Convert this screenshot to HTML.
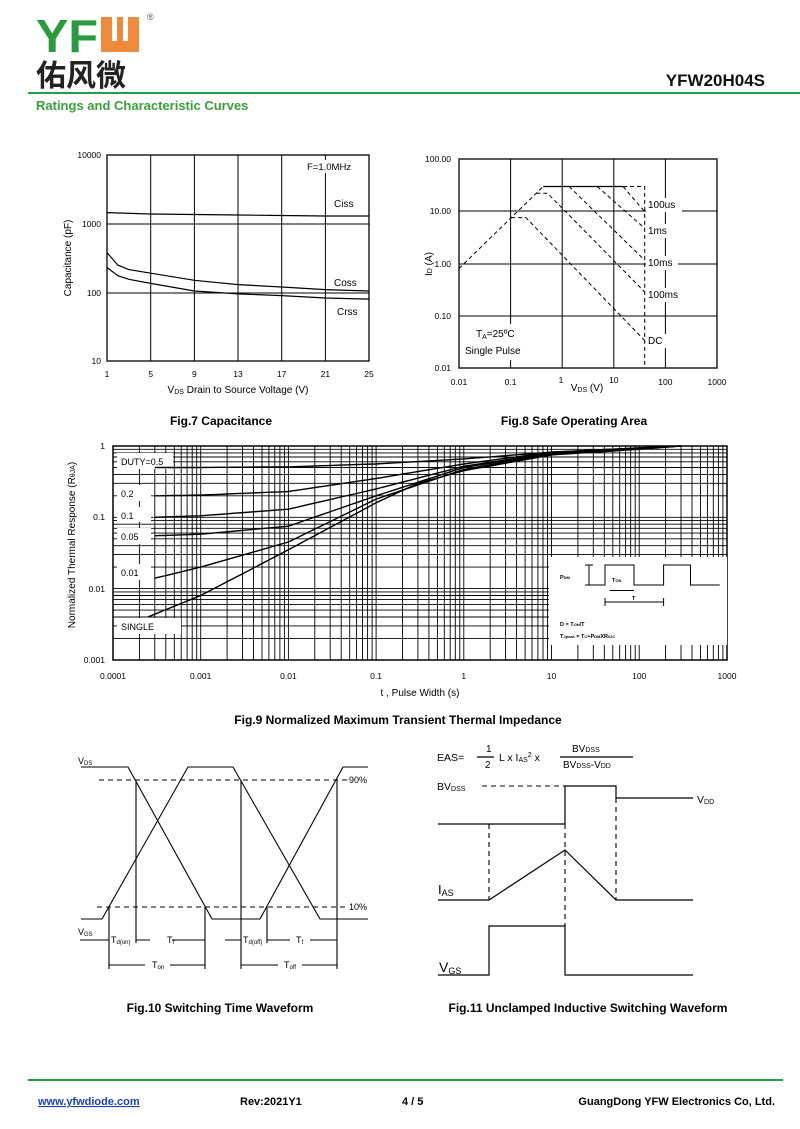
<!DOCTYPE html>
<html><head><meta charset="utf-8"><style>
body{margin:0;background:#fff;}
svg{display:block;font-family:"Liberation Sans","Noto Sans CJK SC",sans-serif;}
</style></head><body>
<svg id="s" width="800" height="1129" viewBox="0 0 800 1129" xmlns="http://www.w3.org/2000/svg">
<rect width="800" height="1129" fill="#fff"/>
<!-- header -->
<text x="36" y="52" font-size="46" font-weight="bold" fill="#2a9a3e" textLength="62" lengthAdjust="spacingAndGlyphs">YF</text>
<path d="M101 17 h11 v24 h5 v-24 h6 v24 h5 v-24 h11 v35 h-38z" fill="#ee8a3a"/>
<text x="147" y="20" font-size="9" fill="#555">®</text>
<text x="36" y="86" font-size="30" font-weight="bold" fill="#222" font-family="'Noto Sans CJK SC',sans-serif">佑风微</text>
<text x="765" y="86" font-size="17" font-weight="bold" text-anchor="end" fill="#111">YFW20H04S</text>
<rect x="28" y="92" width="772" height="2" fill="#20a040"/>
<text x="36" y="110" font-size="13" font-weight="bold" fill="#3aa03a">Ratings and Characteristic Curves</text>

<!-- Fig 7 -->
<g stroke="#000" fill="none" stroke-width="1">
<rect x="107" y="155" width="262" height="206" stroke-width="1.3"/>
<path d="M150.7 155V361M194.4 155V361M238 155V361M281.7 155V361M325.4 155V361M107 224H369M107 293H369"/>
</g>
<rect x="302" y="160" width="62" height="13" fill="#fff"/>
<text x="307" y="170" font-size="9.5">F=1.0MHz</text>
<rect x="330" y="197" width="30" height="12" fill="#fff"/>
<text x="334" y="207" font-size="10">Ciss</text>
<rect x="330" y="276" width="34" height="12" fill="#fff"/>
<text x="334" y="286" font-size="10">Coss</text>
<rect x="333" y="305" width="30" height="12" fill="#fff"/>
<text x="337" y="315" font-size="10">Crss</text>
<g stroke="#000" fill="none" stroke-width="1.2">
<polyline points="107,212.6 150,214 238,215 281,215.5 325,216 369,216"/>
<polyline points="107,252.6 117.9,265.1 128.8,269.6 150.7,273.2 194.4,280.3 238,284.6 281.7,287 325.4,289.6 369,291"/>
<polyline points="107,267.5 117.9,275.7 128.8,279.3 150.7,283.4 194.4,291 238,293.9 281.7,295.6 325.4,298 369,299.1"/>
</g>
<g font-size="8.5" text-anchor="end">
<text x="101" y="158">10000</text><text x="101" y="227">1000</text><text x="101" y="296">100</text><text x="101" y="364">10</text>
</g>
<g font-size="8.5" text-anchor="middle">
<text x="107" y="377">1</text><text x="150.7" y="377">5</text><text x="194.4" y="377">9</text><text x="238" y="377">13</text><text x="281.7" y="377">17</text><text x="325.4" y="377">21</text><text x="369" y="377">25</text>
</g>
<text x="238" y="393" font-size="10" text-anchor="middle">V<tspan font-size="7" dy="1">DS</tspan><tspan dy="-1"> Drain to Source Voltage (V)</tspan></text>
<text transform="translate(71,258) rotate(-90)" font-size="10" text-anchor="middle">Capacitance (pF)</text>
<text x="221" y="425" font-size="12" font-weight="bold" text-anchor="middle">Fig.7 Capacitance</text>

<!-- Fig 8 -->
<g stroke="#000" fill="none" stroke-width="1">
<rect x="459" y="159" width="258" height="209" stroke-width="1.3"/>
<path d="M510.6 159V368M562.2 159V368M613.8 159V368M665.4 159V368M459 211H717M459 264H717M459 316H717"/>
</g>
<rect x="646" y="198" width="36" height="14" fill="#fff"/>
<rect x="646" y="224" width="26" height="14" fill="#fff"/>
<rect x="646" y="256" width="32" height="14" fill="#fff"/>
<rect x="646" y="288" width="40" height="14" fill="#fff"/>
<rect x="646" y="334" width="22" height="14" fill="#fff"/>
<rect x="462" y="324" width="70" height="36" fill="#fff"/>
<g stroke="#000" fill="none" stroke-width="1" stroke-dasharray="4,3">
<polyline points="459,268.5 543.2,186.5"/>
<polyline points="511.2,217.6 525.9,217.6 644.7,340.6"/>
<polyline points="536.3,193.2 547.5,193.2 644.7,292"/>
<polyline points="569.1,186.5 644.7,260.2"/>
<polyline points="597.2,186.5 644.7,228.3"/>
<polyline points="623.1,186.5 644.7,211.6"/>
<polyline points="623.1,186.5 644.7,186.5 644.7,368"/>
</g>
<polyline points="543.2,186.5 623.1,186.5" stroke="#000" fill="none" stroke-width="1.2"/>
<g font-size="10">
<text x="648" y="208">100us</text><text x="648" y="234">1ms</text><text x="648" y="266">10ms</text><text x="648" y="298">100ms</text><text x="648" y="344">DC</text>
<text x="476" y="337">T<tspan font-size="7" dy="2">A</tspan><tspan dy="-2">=25ºC</tspan></text>
<text x="465" y="354">Single  Pulse</text>
</g>
<g font-size="8.5" text-anchor="end">
<text x="451" y="162">100.00</text><text x="451" y="214">10.00</text><text x="451" y="267">1.00</text><text x="451" y="319">0.10</text><text x="451" y="371">0.01</text>
</g>
<g font-size="8.5" text-anchor="middle">
<text x="459" y="385">0.01</text><text x="510.6" y="385">0.1</text><text x="561" y="383">1</text><text x="613.8" y="383">10</text><text x="665.4" y="385">100</text><text x="717" y="385">1000</text>
</g>
<text x="587" y="391" font-size="10" text-anchor="middle">V<tspan font-size="7" dy="1">DS</tspan><tspan dy="-1"> (V)</tspan></text>
<text transform="translate(432,264) rotate(-90)" font-size="10" text-anchor="middle">I<tspan font-size="7">D</tspan> (A)</text>
<text x="574" y="425" font-size="12" font-weight="bold" text-anchor="middle">Fig.8 Safe Operating Area</text>

<!-- Fig 9 -->
<g id="g9grid" stroke="#000" fill="none" stroke-width="0.9"></g>
<rect x="113" y="446" width="614" height="214" stroke="#000" fill="none" stroke-width="1.5"/>
<g fill="#fff">
<rect x="117" y="453" width="56" height="16"/><rect x="117" y="485" width="34" height="16"/>
<rect x="117" y="507" width="34" height="15"/><rect x="117" y="528" width="34" height="16"/>
<rect x="117" y="564" width="34" height="16"/><rect x="117" y="618" width="64" height="16"/>
<rect x="549" y="557" width="178" height="88"/>
</g>
<g id="g9c" stroke="#000" fill="none" stroke-width="1.4"></g>
<g font-size="9">
<text x="121" y="465">DUTY=0.5</text><text x="121" y="497">0.2</text><text x="121" y="519">0.1</text><text x="121" y="540">0.05</text><text x="121" y="576">0.01</text><text x="121" y="630">SINGLE</text>
</g>
<g stroke="#000" fill="none" stroke-width="1">
<polyline points="589,585 605,585 605,565 634,565 634,585 663.6,585 663.6,565 690.5,565 690.5,585 719.7,585"/>
<path d="M589 565V585M585 565H593M585 585H593M609.6 590.5H634M605 602H663.6M605 598V606M663.6 598V606"/>
</g>
<g font-size="5.5" font-weight="bold">
<text x="560" y="579">P<tspan font-size="4">DM</tspan></text>
<text x="612" y="582">T<tspan font-size="4">ON</tspan></text>
<text x="632" y="600">T</text>
<text x="560" y="626">D = T<tspan font-size="4">ON</tspan>/T</text>
<text x="560" y="638">T<tspan font-size="4">Jpeak</tspan> = T<tspan font-size="4">C</tspan>+P<tspan font-size="4">DM</tspan>XR<tspan font-size="4">θJC</tspan></text>
</g>
<g font-size="8.5" text-anchor="end">
<text x="105" y="449">1</text><text x="105" y="520">0.1</text><text x="105" y="592">0.01</text><text x="105" y="663">0.001</text>
</g>
<g font-size="8.5" text-anchor="middle">
<text x="113" y="679">0.0001</text><text x="200.7" y="679">0.001</text><text x="288.4" y="679">0.01</text><text x="376.1" y="679">0.1</text><text x="463.8" y="679">1</text><text x="551.5" y="679">10</text><text x="639.2" y="679">100</text><text x="727" y="679">1000</text>
</g>
<text x="420" y="696" font-size="10" text-anchor="middle">t , Pulse Width (s)</text>
<text transform="translate(75,545) rotate(-90)" font-size="10" text-anchor="middle">Normalized Thermal Response (R<tspan font-size="7">θJA</tspan>)</text>
<text x="398" y="724" font-size="12" font-weight="bold" text-anchor="middle">Fig.9 Normalized Maximum Transient Thermal Impedance</text>

<!-- Fig 10 -->
<g stroke="#000" fill="none" stroke-width="1.1">
<polyline points="81,767 128,767 212,919 260,919 343,767 368,767"/>
<polyline points="81,919 102,919 188,767 233,767 320,919 368,919"/>
<path d="M109 907V969M136 780V943M205 907V969M241 780V969M267 907V943M337 780V969"/>
<path d="M80 940H109M136 940H150M172 940H205M225 940H241M267 940H290M310 940H337M109 965H145M170 965H205M241 965H278M302 965H337"/>
</g>
<g stroke="#000" fill="none" stroke-width="1.1" stroke-dasharray="5,4">
<path d="M99 780H347M97 907H348"/>
</g>
<g font-size="9">
<text x="78" y="764">V<tspan font-size="6" dy="1">DS</tspan></text>
<text x="78" y="935">V<tspan font-size="6" dy="1">GS</tspan></text>
<text x="349" y="783">90%</text><text x="349" y="910">10%</text>
<text x="111" y="943">T<tspan font-size="6" dy="1">d(on)</tspan></text>
<text x="167" y="943">T<tspan font-size="6" dy="1">r</tspan></text>
<text x="243" y="943">T<tspan font-size="6" dy="1">d(off)</tspan></text>
<text x="296" y="943">T<tspan font-size="6" dy="1">f</tspan></text>
<text x="152" y="968">T<tspan font-size="6" dy="1">on</tspan></text>
<text x="284" y="968">T<tspan font-size="6" dy="1">off</tspan></text>
</g>
<text x="220" y="1012" font-size="12" font-weight="bold" text-anchor="middle">Fig.10 Switching Time Waveform</text>

<!-- Fig 11 -->
<g font-size="10.5">
<text x="437" y="761">EAS=</text>
<text x="486" y="752" font-size="10">1</text><text x="485" y="768" font-size="10">2</text>
<text x="499" y="761">L x I<tspan font-size="7" dy="1">AS</tspan><tspan font-size="7" dy="-5">2</tspan><tspan dy="4"> x</tspan></text>
<text x="572" y="752" font-size="10">BV<tspan font-size="7">DSS</tspan></text>
<text x="563" y="768" font-size="10">BV<tspan font-size="7">DSS</tspan>-V<tspan font-size="7">DD</tspan></text>
<text x="437" y="790">BV<tspan font-size="7" dy="1">DSS</tspan></text>
<text x="697" y="803">V<tspan font-size="7" dy="1">DD</tspan></text>
<text x="438" y="894" font-size="13">I<tspan font-size="9" dy="2">AS</tspan></text>
<text x="439" y="972" font-size="14">V<tspan font-size="9" dy="2">GS</tspan></text>
</g>
<g stroke="#000" fill="none" stroke-width="1.2">
<line x1="477" y1="757" x2="494" y2="757"/><line x1="560" y1="757" x2="633" y2="757"/>
<polyline points="438,824 565,824 565,786 616,786 616,798 693,798"/>
<polyline points="438,900 489,900 565,850 616,900 693,900"/>
<polyline points="438,975 489,975 489,926 565,926 565,975 693,975"/>
</g>
<g stroke="#000" fill="none" stroke-width="1.1" stroke-dasharray="5,4">
<path d="M482 786H565M489 824V900M565 824V926M616 798V900"/>
</g>
<text x="588" y="1012" font-size="12" font-weight="bold" text-anchor="middle">Fig.11 Unclamped Inductive Switching Waveform</text>

<!-- footer -->
<rect x="28" y="1079" width="755" height="2" fill="#20a040"/>
<g font-size="11" font-weight="bold">
<text x="38" y="1105" fill="#1a3fc0" text-decoration="underline">www.yfwdiode.com</text>
<text x="240" y="1105">Rev:2021Y1</text>
<text x="402" y="1105">4 / 5</text>
<text x="775" y="1105" text-anchor="end">GuangDong YFW Electronics Co, Ltd.</text>
</g>
</svg>
<script>
(function(){
var NS="http://www.w3.org/2000/svg";
function X(t){return 113+(Math.log10(t)+4)*87.7;}
function Y(r){return 446-Math.log10(r)*71.3;}
var g=document.getElementById('g9grid'),d="";
for(var e=-4;e<3;e++)for(var m=1;m<10;m++){var x=X(m*Math.pow(10,e));d+="M"+x.toFixed(1)+" 446V660";}
for(var e=-3;e<0;e++)for(var m=1;m<10;m++){var y=Y(m*Math.pow(10,e));d+="M113 "+y.toFixed(1)+"H727";}
var p=document.createElementNS(NS,'path');p.setAttribute('d',d);g.appendChild(p);
var curves=[
[[0.00025,0.004],[0.001,0.008],[0.01,0.035],[0.1,0.16],[0.3,0.3],[1,0.45],[10,0.75],[100,0.9],[300,1]],
[[0.0003,0.014],[0.001,0.02],[0.01,0.045],[0.1,0.18],[1,0.47],[10,0.77],[100,0.92],[300,1]],
[[0.0003,0.055],[0.001,0.058],[0.01,0.075],[0.1,0.2],[1,0.5],[10,0.78],[100,0.93],[300,1]],
[[0.0003,0.1],[0.001,0.105],[0.01,0.13],[0.1,0.25],[1,0.52],[10,0.8],[100,0.93],[300,1]],
[[0.0003,0.2],[0.001,0.205],[0.01,0.23],[0.1,0.35],[1,0.56],[10,0.82],[100,0.94],[300,1]],
[[0.0003,0.5],[0.001,0.5],[0.01,0.51],[0.1,0.56],[1,0.66],[10,0.82],[100,0.94],[300,1]]];
var c=document.getElementById('g9c');
curves.forEach(function(cv){var pts=[];
for(var i=0;i<cv.length-1;i++){var a=cv[i],b=cv[i+1];for(var k=0;k<10;k++){var f=k/10;
var lt=Math.log10(a[0])*(1-f)+Math.log10(b[0])*f,lr=Math.log10(a[1])*(1-f)+Math.log10(b[1])*f;
pts.push(X(Math.pow(10,lt)).toFixed(1)+","+Y(Math.pow(10,lr)).toFixed(1));}}
var l=cv[cv.length-1];pts.push(X(l[0]).toFixed(1)+","+Y(l[1]).toFixed(1));
var pl=document.createElementNS(NS,'polyline');pl.setAttribute('points',pts.join(' '));c.appendChild(pl);});
})();
</script>
</body></html>
